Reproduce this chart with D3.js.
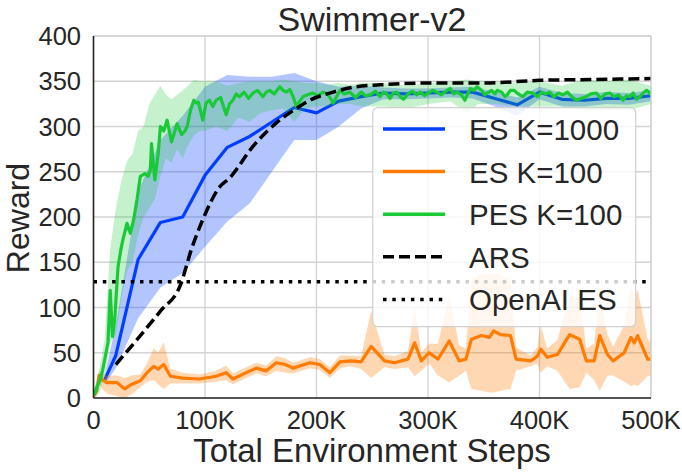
<!DOCTYPE html>
<html>
<head>
<meta charset="utf-8">
<script src="https://d3js.org/d3.v7.min.js"></script>
<style>
  body { margin: 0; background: #fff; }
  svg { font-family: "Liberation Sans", Arial, sans-serif; }
  .grid line { stroke: #d3d3d3; stroke-width: 1.3; }
</style>
</head>
<body>
<script>
// x values are in thousands of environment steps
var xTicks = [0, 100, 200, 300, 400, 500];
var xTickLabels = ["0", "100K", "200K", "300K", "400K", "500K"];
var yTicks = [0, 50, 100, 150, 200, 250, 300, 350, 400];

// ES K=1000
var blueX    = [10, 20, 40, 60, 80, 100, 120, 140, 160, 180, 200, 220, 240, 260, 280, 300, 320, 340, 360, 380, 400, 420, 440, 460, 480, 500];
var blueMean = [20, 47, 153, 194, 200, 246, 277, 289, 305, 321, 315, 328, 333, 337, 336, 337, 338, 338, 331, 324, 338, 330, 329, 331, 331, 334];
var blueLo   = [15, 33, 88, 122, 138, 167, 195, 215, 250, 285, 285, 300, 320, 330, 330, 331, 332, 331, 322, 312, 330, 322, 322, 325, 324, 328];
var blueHi   = [25, 80, 228, 285, 312, 344, 357, 355, 355, 359, 350, 344, 345, 343, 342, 342, 343, 344, 338, 332, 344, 337, 336, 338, 337, 340];

// ES K=100
var orangeX    = [0, 3, 5, 8, 12, 21, 28, 34, 42, 48, 54, 58, 63, 69, 80, 95, 110, 119, 125, 137, 146, 155, 164, 172, 179, 194, 203, 212, 221, 231, 240, 249, 261, 270, 282, 288, 294, 301, 309, 319, 328, 334, 339, 348, 355, 359, 365, 374, 379, 392, 398, 401, 407, 416, 427, 436, 442, 449, 454, 461, 466, 476, 482, 485, 488, 497, 500];
var orangeMean = [2, 8, 25, 20, 17, 17, 10, 15, 19, 28, 35, 32, 37, 24, 22, 21, 24, 28, 21, 28, 33, 30, 39, 37, 33, 39, 37, 28, 40, 41, 40, 57, 41, 39, 43, 61, 41, 50, 43, 63, 41, 43, 65, 69, 67, 74, 70, 69, 43, 41, 46, 54, 45, 48, 70, 65, 41, 41, 69, 48, 41, 50, 67, 61, 69, 43, 43];
var orangeLo   = [0, 2, 15, 10, 5, 2, 0, 4, 12, 18, 20, 15, 10, 16, 16, 16, 18, 20, 15, 22, 27, 24, 30, 28, 27, 33, 31, 22, 33, 35, 32, 22, 34, 32, 34, 24, 30, 38, 25, 17, 25, 30, 10, 8, 6, 6, 8, 10, 30, 35, 38, 28, 35, 30, 10, 12, 28, 20, 8, 25, 25, 18, 13, 15, 13, 24, 25];
var orangeHi   = [4, 14, 30, 28, 25, 25, 22, 25, 26, 38, 55, 50, 62, 32, 28, 26, 30, 36, 27, 34, 39, 36, 46, 44, 39, 45, 43, 34, 47, 47, 46, 96, 48, 46, 52, 100, 50, 60, 60, 113, 58, 55, 130, 137, 137, 138, 136, 130, 56, 47, 56, 80, 55, 64, 113, 110, 55, 60, 113, 70, 57, 80, 122, 110, 120, 65, 60];

// PES K=100
var greenX    = [0, 1, 3, 6, 8, 10, 12, 13, 15, 17, 19, 22, 25, 27, 30, 33, 36, 39, 42, 46, 49, 51, 52, 55, 58, 60, 63, 66, 70, 73, 75, 79, 82, 84, 87, 90, 92, 94, 98, 101, 104, 107, 110, 114, 119, 122, 125, 128, 131, 135, 139, 143, 147, 152, 155, 158, 162, 167, 170, 173, 176, 179, 182, 185, 188, 192, 197, 201, 206, 210, 215, 218, 221, 225, 230, 235, 240, 244, 248, 253, 257, 260, 263, 266, 269, 272, 275, 278, 282, 286, 290, 293, 297, 300, 304, 308, 312, 316, 320, 323, 326, 330, 333, 336, 338, 341, 344, 348, 351, 353, 357, 360, 362, 366, 369, 371, 374, 377, 381, 385, 389, 394, 398, 402, 406, 409, 413, 417, 421, 425, 429, 433, 437, 442, 446, 451, 455, 459, 463, 467, 471, 475, 478, 481, 484, 487, 490, 493, 496, 499, 500];
var greenMean = [3, 5, 12, 20, 30, 42, 55, 61, 119, 68, 86, 145, 167, 178, 193, 182, 197, 219, 245, 248, 245, 252, 281, 241, 270, 300, 295, 307, 283, 295, 303, 291, 295, 300, 318, 329, 326, 327, 307, 326, 329, 322, 329, 332, 313, 325, 329, 336, 333, 338, 331, 337, 340, 333, 338, 340, 336, 344, 340, 338, 341, 333, 322, 328, 333, 335, 337, 334, 338, 336, 326, 333, 340, 336, 338, 332, 338, 334, 335, 339, 333, 338, 336, 331, 337, 338, 333, 330, 336, 339, 335, 338, 334, 337, 340, 338, 335, 339, 342, 336, 338, 335, 329, 337, 342, 340, 344, 340, 335, 337, 340, 336, 340, 338, 333, 335, 340, 340, 336, 333, 338, 337, 333, 338, 336, 338, 333, 337, 335, 338, 333, 329, 331, 333, 336, 337, 331, 336, 337, 333, 335, 329, 334, 333, 337, 330, 333, 337, 340, 337, 335];
var greenBandX  = [0, 5, 10, 15, 20, 25, 30, 35, 40, 45, 50, 55, 60, 65, 70, 75, 80, 85, 90, 95, 100, 110, 120, 130, 140, 150, 160, 170, 180, 190, 200, 210, 220, 230, 240, 260, 280, 300, 320, 335, 345, 360, 380, 400, 420, 440, 460, 480, 500];
var greenBandLo = [0, 5, 25, 60, 70, 110, 140, 150, 180, 200, 210, 220, 245, 265, 260, 275, 265, 280, 290, 295, 295, 300, 295, 310, 305, 315, 318, 320, 305, 320, 322, 322, 325, 325, 322, 322, 320, 325, 328, 315, 325, 325, 322, 322, 322, 318, 318, 318, 325];
var greenBandHi = [8, 30, 65, 165, 210, 240, 262, 270, 295, 300, 325, 335, 345, 335, 330, 335, 340, 345, 352, 350, 350, 350, 345, 348, 350, 350, 350, 352, 350, 348, 348, 346, 348, 346, 348, 348, 345, 348, 350, 352, 350, 350, 348, 350, 345, 352, 350, 352, 345];

// ARS
var arsX = [20, 40, 60, 78, 88, 98, 113, 122, 143, 164, 182, 194, 215, 236, 257, 300, 350, 400, 450, 500];
var arsY = [37, 66, 96, 125, 165, 197, 233, 243, 278, 304, 320, 329, 338, 344, 346, 348, 348, 351, 352, 353];

// OpenAI ES (final reward, horizontal)
var openaiY = 128.5;

var legendNames = ["ES K=1000", "ES K=100", "PES K=100", "ARS", "OpenAI ES"];

var width = 682, height = 472;
var colors = {blue: "#023EFF", orange: "#FF7C00", green: "#1AC938"};

var svg = d3.select("body").append("svg")
    .attr("width", width)
    .attr("height", height);

var x = d3.scaleLinear().domain([0, 500]).range([93.5, 651]);
var y = d3.scaleLinear().domain([0, 400]).range([398, 36]);

//grid
var grid = svg.append("g").attr("class", "grid");
grid.selectAll(".gx").data(xTicks).enter().append("line")
    .attr("x1", d => x(d)).attr("x2", d => x(d))
    .attr("y1", y(0)).attr("y2", y(400));
grid.selectAll(".gy").data(yTicks).enter().append("line")
    .attr("x1", x(0)).attr("x2", x(500))
    .attr("y1", d => y(d)).attr("y2", d => y(d));

//clip everything to the plot box
svg.append("clipPath").attr("id", "clip").append("rect")
    .attr("x", x(0)).attr("y", y(400))
    .attr("width", x(500) - x(0)).attr("height", y(0) - y(400));
var plot = svg.append("g").attr("clip-path", "url(#clip)");

function band(xs, lo, hi, color, op){
    var area = d3.area()
        .x((d, i) => x(xs[i]))
        .y0((d, i) => y(lo[i]))
        .y1((d, i) => y(hi[i]));
    plot.append("path").datum(xs)
        .attr("d", area)
        .attr("fill", color)
        .attr("fill-opacity", op);
}
function line(xs, ys, color){
    var l = d3.line().x((d, i) => x(xs[i])).y((d, i) => y(ys[i]));
    plot.append("path").datum(xs)
        .attr("d", l)
        .attr("fill", "none")
        .attr("stroke", color)
        .attr("stroke-width", 3.2)
        .attr("stroke-linejoin", "round");
}

band(blueX, blueLo, blueHi, colors.blue, 0.3);
line(blueX, blueMean, colors.blue);
band(orangeX, orangeLo, orangeHi, colors.orange, 0.3);
line(orangeX, orangeMean, colors.orange);
band(greenBandX, greenBandLo, greenBandHi, colors.green, 0.25);
line(greenX, greenMean, colors.green);

//ARS dashed
plot.append("path").datum(arsX)
    .attr("d", d3.line().curve(d3.curveMonotoneX).x((d, i) => x(arsX[i])).y((d, i) => y(arsY[i])))
    .attr("fill", "none")
    .attr("stroke", "#000")
    .attr("stroke-width", 3.5)
    .attr("stroke-dasharray", "11,5");

//OpenAI ES dotted
plot.append("line")
    .attr("x1", x(0)).attr("x2", x(500))
    .attr("y1", y(openaiY)).attr("y2", y(openaiY))
    .attr("stroke", "#000")
    .attr("stroke-width", 3.5)
    .attr("stroke-dasharray", "3.5,5.8");

//spines
svg.append("line").attr("x1", x(0)).attr("x2", x(500)).attr("y1", y(400)).attr("y2", y(400))
    .attr("stroke", "#d3d3d3").attr("stroke-width", 1.3);
svg.append("line").attr("x1", x(500)).attr("x2", x(500)).attr("y1", y(0)).attr("y2", y(400))
    .attr("stroke", "#d3d3d3").attr("stroke-width", 1.3);
svg.append("line").attr("x1", x(0)).attr("x2", x(0)).attr("y1", y(0)).attr("y2", y(400))
    .attr("stroke", "#262626").attr("stroke-width", 1.6);
svg.append("line").attr("x1", x(0)).attr("x2", x(500)).attr("y1", y(0)).attr("y2", y(0))
    .attr("stroke", "#262626").attr("stroke-width", 1.6);

//tick labels
svg.selectAll(".xt").data(xTicks).enter().append("text")
    .attr("x", d => x(d)).attr("y", 429)
    .attr("text-anchor", "middle")
    .attr("font-size", 25.5).attr("fill", "#262626")
    .text((d, i) => xTickLabels[i]);
svg.selectAll(".yt").data(yTicks).enter().append("text")
    .attr("x", 81).attr("y", d => y(d) + 9)
    .attr("text-anchor", "end")
    .attr("font-size", 25.5).attr("fill", "#262626")
    .text(d => d);

//axis titles
svg.append("text")
    .attr("x", 372).attr("y", 31)
    .attr("text-anchor", "middle")
    .attr("font-size", 34).attr("fill", "#262626")
    .text("Swimmer-v2");
svg.append("text")
    .attr("x", 372).attr("y", 462)
    .attr("text-anchor", "middle")
    .attr("font-size", 33).attr("fill", "#262626")
    .text("Total Environment Steps");
svg.append("text")
    .attr("transform", "translate(29,218) rotate(-90)")
    .attr("text-anchor", "middle")
    .attr("font-size", 32).attr("fill", "#262626")
    .text("Reward");

//legend
var leg = svg.append("g");
leg.append("rect")
    .attr("x", 372.7).attr("y", 107.7)
    .attr("width", 263).attr("height", 219)
    .attr("rx", 5)
    .attr("fill", "#fff").attr("fill-opacity", 0.8)
    .attr("stroke", "#d0d0d0").attr("stroke-width", 1.2);
var legStyles = [
    {c: colors.blue, dash: null},
    {c: colors.orange, dash: null},
    {c: colors.green, dash: null},
    {c: "#000", dash: "11,5"},
    {c: "#000", dash: "3.5,5.8"}
];
legendNames.forEach(function(name, i){
    var ly = 129 + i * 42.6;
    leg.append("line")
        .attr("x1", 383).attr("x2", 445)
        .attr("y1", ly).attr("y2", ly)
        .attr("stroke", legStyles[i].c)
        .attr("stroke-width", 3.5)
        .attr("stroke-dasharray", legStyles[i].dash);
    leg.append("text")
        .attr("x", 469).attr("y", ly + 11)
        .attr("font-size", 29.5).attr("fill", "#262626")
        .text(name);
});
</script>
</body>
</html>
